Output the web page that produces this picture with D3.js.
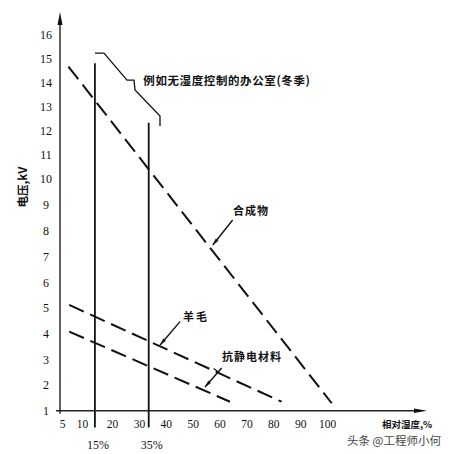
<!DOCTYPE html>
<html><head><meta charset="utf-8">
<script src="https://cdn.jsdelivr.net/npm/d3@7"></script>
<style>
html,body{margin:0;padding:0;background:#fff;}
svg{display:block;}
.cjk{font-family:"Noto Sans CJK SC","Noto Sans",sans-serif;font-weight:700;fill:#111;}
.num{font-family:"Liberation Serif","DejaVu Serif",serif;fill:#111;}
</style>
</head><body>
<svg id="c" width="451" height="454"></svg>
<script>
// ---- data ----
const xTicks = [5, 10, 20, 30, 40, 50, 60, 70, 80, 90, 100];
const yTicks = [1, 2, 3, 4, 5, 6, 7, 8, 9, 10, 11, 12, 13, 14, 15, 16];
const seriesNames = ["合成物", "羊毛", "抗静电材料"];
const synthetic = [[6.6, 14.66], [101.75, 1.29]];
const wool = [[6.8, 5.12], [83.1, 1.35]];
const antistatic = [[6.8, 4.08], [63.9, 1.35]];
const rhLineX = [14.3, 33.66];
const rhLineTop = [14.8, 12.33];
const rhLineBottom = 0.35;
const rhLabels = ["15%", "35%"];
const officeLabel = "例如无湿度控制的办公室(冬季)";
const officeBracket = [[14.33, 15.22], [17.33, 15.22], [25.58, 14.1], [28.19, 14.1], [28.56, 13.69], [37.86, 12.61], [37.86, 12.2]];
const leaderSynthetic = [[64.9, 8.41], [57.5, 7.44]];
const leaderWool = [[45.3, 4.47], [37.9, 3.56]];
const leaderAnti = [[60.8, 2.66], [54.6, 1.92]];
const labelPos = [[65.0, 8.62], [46.4, 4.5], [60.9, 2.95]];
const officeLabelPos = [31.65, 13.88];
const yTitle = "电压,kV";
const xTitle = "相对湿度,%";
const watermark = "头条 @工程师小何";

// ---- scales ----
const svg = d3.select("#c");
const x = d3.scaleLinear().domain([5, 10, 20, 100]).range([62, 82, 112, 327]);
const y = d3.scaleLinear().domain([1, 5, 10, 16]).range([410.7, 308, 179, 34.3]);
const x0 = 60, yBase = 410.7;

// ---- axes ----
const gx = svg.append("g").attr("transform", `translate(0,${yBase})`)
  .call(d3.axisBottom(x).tickValues(xTicks).tickSize(0).tickPadding(9).tickFormat(d3.format("d")));
gx.select(".domain").remove();
gx.selectAll("text").attr("class", "num").attr("font-size", 11.5).attr("fill", "#111");

const gy = svg.append("g").attr("transform", `translate(46,0)`)
  .call(d3.axisRight(y).tickValues(yTicks).tickSize(0).tickPadding(0).tickFormat(d3.format("d")));
gy.select(".domain").remove();
gy.selectAll("text").attr("class", "num").attr("font-size", 12).attr("fill", "#111")
  .attr("text-anchor", "middle").attr("x", 0);

// axis lines with arrows
svg.append("line").attr("x1", x0).attr("x2", x0).attr("y1", yBase + 3).attr("y2", 22)
  .attr("stroke", "#222").attr("stroke-width", 1.4);
svg.append("path").attr("d", `M${x0},12 L${x0 - 2.5},25 L${x0 + 2.5},25 Z`).attr("fill", "#111");
svg.append("line").attr("x1", x0 - 4).attr("x2", 416).attr("y1", yBase).attr("y2", yBase)
  .attr("stroke", "#222").attr("stroke-width", 1.4);
svg.append("path").attr("d", `M427,${yBase} L414,${yBase - 2.3} L414,${yBase + 2.3} Z`).attr("fill", "#111");

// ---- vertical humidity lines ----
rhLineX.forEach((v, i) => {
  svg.append("line").attr("x1", x(v)).attr("x2", x(v))
    .attr("y1", y(rhLineTop[i])).attr("y2", y(rhLineBottom))
    .attr("stroke", "#111").attr("stroke-width", 1.8);
  svg.append("text").attr("class", "num").attr("font-size", 12)
    .attr("x", x(v) + 3).attr("y", 449).attr("text-anchor", "middle").text(rhLabels[i]);
});

// ---- dashed series ----
const line = d3.line().x(d => x(d[0])).y(d => y(d[1]));
[synthetic, wool, antistatic].forEach(s => {
  svg.append("path").attr("d", line(s)).attr("fill", "none")
    .attr("stroke", "#111").attr("stroke-width", 2).attr("stroke-dasharray", "16,7");
});

// ---- annotations ----
svg.append("path").attr("d", line(officeBracket)).attr("fill", "none")
  .attr("stroke", "#111").attr("stroke-width", 1.3);
svg.append("text").attr("class", "cjk").attr("font-size", 11.5).attr("letter-spacing", 0.6)
  .attr("x", x(officeLabelPos[0])).attr("y", y(officeLabelPos[1])).text(officeLabel);

[leaderSynthetic, leaderWool, leaderAnti].forEach(l => {
  svg.append("path").attr("d", line(l)).attr("fill", "none")
    .attr("stroke", "#111").attr("stroke-width", 1.4);
  const p1 = [x(l[0][0]), y(l[0][1])], p2 = [x(l[1][0]), y(l[1][1])];
  const ang = Math.atan2(p2[1] - p1[1], p2[0] - p1[0]);
  const len = 7, w = 1.8;
  const bx = p2[0] - len * Math.cos(ang), by = p2[1] - len * Math.sin(ang);
  svg.append("path").attr("d",
    `M${p2[0]},${p2[1]} L${bx - w * Math.sin(ang)},${by + w * Math.cos(ang)} L${bx + w * Math.sin(ang)},${by - w * Math.cos(ang)} Z`)
    .attr("fill", "#111");
});
{
  const a = [x(leaderAnti[0][0]), y(leaderAnti[0][1])];
  svg.append("line").attr("x1", a[0] - 8).attr("y1", a[1] + 0.5).attr("x2", a[0] - 2).attr("y2", a[1] + 5)
    .attr("stroke", "#111").attr("stroke-width", 1.2);
}

seriesNames.forEach((n, i) => {
  svg.append("text").attr("class", "cjk").attr("font-size", 11)
    .attr("letter-spacing", i === 1 ? 2 : 1)
    .attr("x", x(labelPos[i][0])).attr("y", y(labelPos[i][1])).text(n);
});

// axis titles
svg.append("text").attr("class", "cjk").attr("font-size", 11.5)
  .attr("transform", "translate(27,187) rotate(-90)").attr("text-anchor", "middle").text(yTitle);
svg.append("text").attr("class", "cjk").attr("font-size", 9.5)
  .attr("x", 382).attr("y", 428).text(xTitle);
svg.append("text").attr("font-family", "\"Noto Sans CJK SC\",sans-serif").attr("font-size", 11.5)
  .attr("fill", "#444").attr("x", 347).attr("y", 445).text(watermark);
</script>
</body></html>
